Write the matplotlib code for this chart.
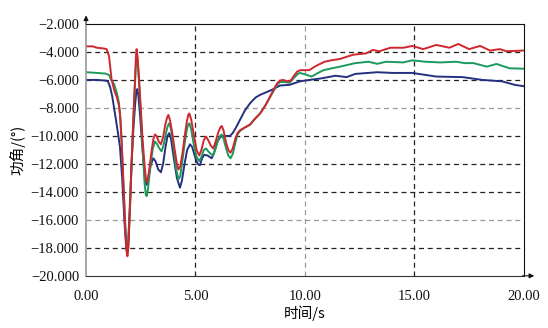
import matplotlib
matplotlib.use('Agg')
import matplotlib.pyplot as plt
from matplotlib.ticker import FuncFormatter

# 数据
t_red = [0, 0.3, 0.5, 0.8, 0.94, 1.05, 1.17, 1.3, 1.4, 1.5, 1.55, 1.63, 1.7, 1.78, 1.85, 1.89, 1.93,
         2.0, 2.08, 2.16, 2.24, 2.28, 2.31, 2.35, 2.41, 2.47, 2.58, 2.69, 2.75, 2.8, 2.87, 3.0, 3.08,
         3.15, 3.22, 3.32, 3.42, 3.52, 3.62, 3.7, 3.76, 3.84, 3.95, 4.05, 4.15, 4.22, 4.3, 4.4, 4.5,
         4.6, 4.67, 4.72, 4.8, 4.92, 5.05, 5.17, 5.27, 5.38, 5.48, 5.58, 5.7, 5.81, 5.92, 6.05, 6.15,
         6.2, 6.28, 6.4, 6.5, 6.6, 6.7, 6.82, 6.92, 7.03, 7.25, 7.49, 7.7, 7.95, 8.2, 8.4, 8.6, 8.75,
         8.86, 9.0, 9.2, 9.35, 9.5, 9.65, 9.8, 10.0, 10.2, 10.5, 10.9, 11.2, 11.6, 12.2, 12.8, 13.1,
         13.4, 13.9, 14.5, 14.9, 15.4, 16.0, 16.6, 17.0, 17.5, 18.0, 18.45, 18.9, 19.2, 20.0]
v_red = [-3.6, -3.6, -3.7, -3.75, -3.8, -4.3, -6.0, -6.8, -7.2, -7.8, -8.4, -10.5, -13.1, -16.2, -18.2,
         -18.6, -18.0, -15.5, -11.9, -8.8, -5.8, -4.3, -3.8, -4.3, -5.6, -7.2, -10.2, -12.4, -13.2, -13.3,
         -12.6, -11.0, -10.2, -9.9, -10.0, -10.4, -10.6, -10.1, -9.2, -8.7, -8.5, -8.9, -9.9, -11.0,
         -12.0, -12.4, -12.2, -11.3, -10.1, -9.0, -8.5, -8.4, -8.8, -9.9, -11.0, -11.4, -11.0, -10.3,
         -10.05, -10.3, -10.7, -10.9, -10.4, -9.7, -9.35, -9.3, -9.6, -10.5, -11.0, -11.2, -10.9, -10.2,
         -9.8, -9.6, -9.4, -9.2, -8.8, -8.4, -7.8, -7.2, -6.6, -6.2, -6.05, -6.0, -6.1, -6.05, -5.7,
         -5.4, -5.3, -5.3, -5.3, -5.0, -4.7, -4.6, -4.5, -4.2, -4.1, -3.86, -3.95, -3.7, -3.7, -3.57,
         -3.8, -3.5, -3.7, -3.43, -3.8, -3.57, -3.9, -3.8, -3.95, -3.9]

t_green = [0, 0.5, 0.9, 1.05, 1.15, 1.28, 1.4, 1.5, 1.58, 1.68, 1.78, 1.85, 1.89, 1.93, 2.0, 2.08,
           2.16, 2.24, 2.29, 2.32, 2.36, 2.42, 2.48, 2.58, 2.67, 2.73, 2.77, 2.83, 2.95, 3.05, 3.15,
           3.25, 3.35, 3.45, 3.55, 3.65, 3.73, 3.8, 3.88, 4.0, 4.12, 4.22, 4.3, 4.4, 4.5, 4.6, 4.67,
           4.72, 4.8, 4.92, 5.05, 5.17, 5.27, 5.38, 5.48, 5.58, 5.7, 5.81, 5.92, 6.05, 6.15, 6.2, 6.28,
           6.4, 6.5, 6.6, 6.7, 6.82, 6.92, 7.03, 7.25, 7.49, 7.7, 7.95, 8.2, 8.4, 8.6, 8.75, 8.86, 9.05,
           9.3, 9.5, 9.65, 9.77, 10.0, 10.3, 10.6, 10.85, 11.6, 12.3, 12.9, 13.3, 13.7, 14.5, 14.9, 15.5,
           16.2, 16.9, 17.3, 17.7, 18.3, 18.75, 19.35, 20.0]
v_green = [-5.45, -5.5, -5.55, -5.65, -6.0, -6.3, -6.9, -7.6, -9.0, -12.3, -16.0, -18.0, -18.4, -17.9,
           -15.5, -12.0, -9.0, -6.2, -4.6, -4.2, -4.7, -6.2, -7.8, -10.8, -13.3, -14.2, -14.3, -13.8,
           -12.0, -10.9, -10.4, -10.6, -10.9, -11.1, -10.6, -9.8, -9.3, -9.1, -9.5, -10.8, -12.4, -13.1,
           -12.9, -11.8, -10.6, -9.6, -9.15, -9.1, -9.5, -10.6, -11.5, -11.8, -11.5, -11.0, -10.9, -11.1,
           -11.3, -11.35, -10.9, -10.2, -9.95, -9.9, -10.2, -10.9, -11.4, -11.6, -11.3, -10.5, -9.9,
           -9.65, -9.4, -9.2, -8.8, -8.4, -7.8, -7.25, -6.7, -6.3, -6.15, -6.15, -6.2, -5.85, -5.6, -5.5,
           -5.6, -5.76, -5.5, -5.3, -5.05, -4.8, -4.7, -4.85, -4.7, -4.75, -4.6, -4.7, -4.75, -4.7, -4.8,
           -4.8, -5.05, -4.86, -5.17, -5.2]

t_blue = [0, 0.5, 0.9, 1.0, 1.1, 1.2, 1.32, 1.45, 1.55, 1.65, 1.75, 1.83, 1.87, 1.92, 2.0, 2.08, 2.16,
          2.24, 2.3, 2.34, 2.39, 2.47, 2.58, 2.68, 2.77, 2.85, 2.95, 3.07, 3.17, 3.3, 3.42, 3.52, 3.62,
          3.72, 3.8, 3.88, 4.0, 4.15, 4.29, 4.38, 4.5, 4.62, 4.75, 4.85, 5.0, 5.1, 5.2, 5.3, 5.4, 5.55,
          5.74, 5.85, 6.0, 6.15, 6.35, 6.57, 6.7, 6.85, 7.03, 7.25, 7.49, 7.75, 7.95, 8.2, 8.5, 8.86,
          9.3, 9.77, 10.2, 10.7, 11.4, 11.9, 12.3, 13.3, 14.0, 14.9, 16.0, 17.2, 18.1, 19.0, 19.6, 20.0]
v_blue = [-6.0, -6.0, -6.05, -6.1, -6.5, -7.2, -8.4, -9.7, -10.8, -13.0, -16.0, -17.9, -18.3, -17.8,
          -15.0, -12.0, -9.6, -7.8, -6.8, -6.65, -7.1, -8.6, -11.0, -12.9, -13.5, -13.0, -12.1, -11.6,
          -11.8, -12.4, -12.6, -12.0, -10.9, -10.0, -9.8, -10.2, -11.5, -13.0, -13.7, -13.2, -12.0,
          -11.0, -10.6, -10.8, -11.6, -12.0, -12.1, -11.6, -11.35, -11.4, -11.6, -11.2, -10.4, -10.05,
          -10.0, -10.0, -9.8, -9.4, -8.86, -8.2, -7.67, -7.25, -7.07, -6.9, -6.7, -6.4, -6.35, -6.1,
          -6.0, -5.9, -5.7, -5.8, -5.57, -5.45, -5.5, -5.5, -5.76, -5.8, -6.0, -6.1, -6.36, -6.45]

x_ticks = [0, 5, 10, 15, 20]
y_ticks = [-2, -4, -6, -8, -10, -12, -14, -16, -18, -20]

plt.rcParams['font.family'] = ['Liberation Serif', 'Noto Sans CJK SC']

fig = plt.figure(figsize=(5.48, 3.28), dpi=100)
ax = fig.add_axes([0.157, 0.159, 0.799, 0.768])

# 网格线（虚线，部分为灰色）
for y in y_ticks[1:-1]:
    c = '#999999' if y in (-8, -16) else '#222222'
    ax.axhline(y, color=c, linestyle=(0, (4, 3)), linewidth=0.9, zorder=1)
for x in x_ticks[1:-1]:
    c = '#999999' if x == 10 else '#222222'
    ax.axvline(x, color=c, linestyle=(0, (4, 3)), linewidth=0.9, zorder=1)

ax.plot(t_blue, v_blue, color='#25307e', linewidth=1.4, zorder=3)
ax.plot(t_green, v_green, color='#1c9a5c', linewidth=1.4, zorder=4)
ax.plot(t_red, v_red, color='#d0262e', linewidth=1.4, zorder=5)

ax.set_xlim(0, 20)
ax.set_ylim(-20, -2)
ax.set_xticks(x_ticks)
ax.set_yticks(y_ticks)
ax.xaxis.set_major_formatter(FuncFormatter(lambda v, p: '%.2f' % v))
ax.yaxis.set_major_formatter(FuncFormatter(lambda v, p: ('%.3f' % v).replace('-', '\u2212')))
ax.tick_params(length=0, labelsize=10.5, colors='#111111')
ax.tick_params(axis='y', pad=5)
ax.tick_params(axis='x', pad=10)

ax.spines['left'].set_color('#999999')
ax.spines['left'].set_linewidth(1.2)
ax.spines['bottom'].set_color('#333333')
ax.spines['top'].set_color('#111111')
ax.spines['right'].set_color('#111111')
for s in ax.spines.values():
    s.set_zorder(6)

# 坐标轴箭头
ax.annotate('', xy=(0, 1.045), xytext=(0, 0.99), xycoords='axes fraction',
            arrowprops=dict(arrowstyle='-|>', color='#111111', lw=0.8, mutation_scale=7),
            annotation_clip=False)
ax.annotate('', xy=(1.03, 0), xytext=(0.99, 0), xycoords='axes fraction',
            arrowprops=dict(arrowstyle='-|>', color='#111111', lw=0.8, mutation_scale=7),
            annotation_clip=False)

ax.set_xlabel('时间/s', fontsize=10.5, family=['Noto Sans CJK SC', 'DejaVu Sans'], labelpad=2)
ax.set_ylabel('功角/(°)', fontsize=10.5, family=['Noto Sans CJK SC', 'DejaVu Sans'], labelpad=4)

fig.savefig('out.png', dpi=100)
